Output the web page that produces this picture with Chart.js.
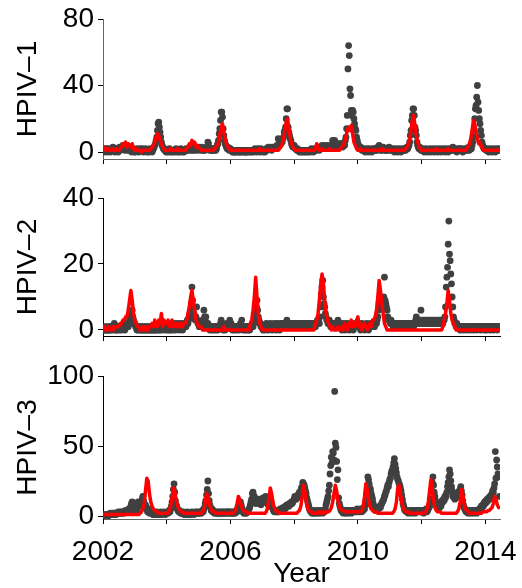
<!DOCTYPE html>
<html>
<head>
<meta charset="utf-8">
<script src="https://cdn.jsdelivr.net/npm/chart.js@4.4.1/dist/chart.umd.min.js"></script>
<style>
  body { margin: 0; background: #fff; width: 522px; height: 588px; position: relative; overflow: hidden; }
  canvas { position: absolute; left: 0; }
</style>
</head>
<body>
<canvas id="p1" width="522" height="175" style="top:0px"></canvas>
<canvas id="p2" width="522" height="170" style="top:175px"></canvas>
<canvas id="p3" width="522" height="243" style="top:345px"></canvas>
<script>
// weekly-ish counts: one row per year (2002..2014), observed at 48 steps/year, model fit at 24 steps/year
const START_YEAR = 2002;
const OBS_PER_YEAR = 48;
const FIT_PER_YEAR = 24;
const xTickValues = [2002, 2004, 2006, 2008, 2010, 2012, 2014];
const xTickLabels = [2002, 2006, 2010, 2014];

const hpiv1Obs = [
  [1,0,2,1, 1,2,0,1, 2,1,1,0, 1,2,1,3, 2,1,0,1, 1,2,1,0, 2,3,1,2, 3,2,4,2, 3,1,2,3, 2,1,3,2, 1,2,1,0, 2,1,1,0],
  [1,0,1,2, 1,1,0,1, 2,1,1,2, 1,0,1,1, 2,1,0,1, 1,0,1,2, 1,1,0,1, 2,3,4,5, 7,9,13,17, 18,15,12,9, 6,4,3,2, 2,1,1,0],
  [1,1,0,1, 2,1,0,1, 1,0,1,1, 0,1,2,1, 0,1,1,0, 1,2,1,0, 1,1,0,1, 1,2,1,1, 2,1,2,3, 2,1,2,1, 3,2,1,2, 2,3,1,2],
  [2,3,2,1, 2,3,2,1, 1,2,1,2, 3,2,6,5, 2,1,2,1, 1,2,1,2, 1,2,1,2, 4,5,7,11, 14,19,24,24, 21,14,10,7, 5,4,3,2, 3,2,1,2],
  [2,1,1,0, 1,0,1,0, 0,1,0,1, 1,0,0,1, 0,1,1,0, 1,0,1,0, 0,1,0,1, 1,0,1,1, 0,1,0,1, 1,2,1,0, 1,1,2,1, 0,1,2,1],
  [1,0,1,1, 0,1,2,1, 2,3,2,2, 3,2,1,3, 2,3,2,2, 3,2,4,3, 8,5,4,6, 5,7,6,8, 9,12,13,15, 20,26,26,15, 12,10,8,7, 5,4,3,3],
  [4,3,2,2, 1,2,1,1, 0,1,1,0, 1,0,1,1, 0,1,0,1, 1,0,1,1, 0,1,2,1, 1,0,1,2, 1,2,1,2, 3,2,1,2, 2,3,4,2, 3,2,4,3],
  [3,2,4,3, 2,3,2,4, 3,2,7,4, 3,7,5,3, 4,2,3,5, 4,3,5,4, 5,3,4,5, 4,7,9,14, 22,50,64,58, 38,34,25,22, 25,24,20,17, 14,13,9,7],
  [5,4,3,2, 3,2,1,2, 1,2,1,0, 1,1,2,1, 0,1,2,1, 1,0,1,2, 1,2,1,1, 2,1,3,2, 4,2,1,2, 1,2,3,2, 1,2,1,1, 2,1,2,3],
  [2,1,2,1, 1,2,1,0, 1,1,2,1, 0,1,1,2, 1,0,1,1, 2,1,1,2, 1,2,3,2, 3,4,6,10, 13,19,22,26, 26,22,15,13, 10,6,4,3, 2,3,2,1],
  [1,2,1,1, 0,1,2,1, 1,0,1,1, 2,1,0,1, 1,2,1,0, 1,1,2,1, 0,1,1,2, 1,0,1,1, 2,1,1,0, 1,2,1,1, 0,1,2,1, 1,2,1,3],
  [2,1,1,2, 1,0,1,2, 1,1,2,1, 2,1,0,1, 1,2,1,1, 2,1,2,3, 1,2,3,2, 4,6,9,13, 20,26,28,33, 40,30,25,20, 17,13,10,6, 4,3,2,2],
  [2,1,2,1, 1,0,1,2, 1,1,0,1, 2,1,1,0, 1,2,1,1, 1,2]
];
const hpiv1Fit = [
  [2,3,1,2, 2,1,1,2, 1,1,2,1, 1,2,3,5, 4,6,3,5, 4,3,5,2],
  [1,2,1,1, 1,0,1,1, 1,1,1,1, 2,3,4,6, 9,11,10,7, 5,3,2,1],
  [1,1,1,2, 1,1,1,1, 2,1,1,1, 1,1,1,2, 3,5,4,7, 5,6,3,4],
  [3,2,1,1, 1,1,1,1, 1,1,1,1, 2,3,4,6, 10,15,17,12, 8,5,3,2],
  [1,1,1,1, 1,1,1,1, 1,1,1,1, 1,1,1,1, 1,1,1,1, 1,1,2,1],
  [1,1,1,1, 1,1,1,1, 1,1,1,1, 1,2,3,5, 8,13,18,20, 14,9,5,3],
  [2,1,1,1, 1,1,1,1, 1,1,1,1, 1,1,1,1, 2,5,2,1, 1,2,1,1],
  [1,1,1,2, 1,1,1,1, 1,1,1,2, 3,4,6,9, 13,15,13,16, 11,6,4,2],
  [1,1,2,1, 1,1,1,1, 1,1,1,1, 1,1,1,1, 1,1,2,1, 1,1,1,1],
  [1,1,1,1, 1,1,1,1, 1,1,1,1, 2,3,5,8, 13,19,22,16, 10,6,3,2],
  [1,1,1,1, 1,1,1,1, 1,1,1,2, 1,1,1,1, 1,1,1,1, 2,1,1,1],
  [1,1,1,1, 1,1,1,1, 1,1,2,3, 5,8,13,19, 17,12,8,5, 6,3,2,1],
  [1,1,1,1, 1,1,1,1, 1,1,1,1]
];

const hpiv2Obs = [
  [0,0,1,0, 0,1,0,0, 1,0,0,1, 0,1,1,0, 1,2,1,0, 0,1,0,1, 1,0,1,1, 0,1,1,2, 1,0,1,1, 2,1,1,2, 3,2,4,5, 6,4,3,2],
  [2,1,1,0, 1,0,1,1, 0,1,0,0, 1,0,1,0, 0,1,0,1, 0,0,1,0, 1,0,0,1, 0,1,0,0, 1,0,1,1, 0,1,0,1, 1,0,1,2, 1,1,0,1],
  [1,0,1,1, 0,1,0,1, 1,0,1,2, 1,0,1,1, 2,1,1,0, 1,2,1,1, 0,1,2,1, 2,1,2,3, 2,3,4,5, 6,8,13,9, 7,5,4,3, 4,7,3,2],
  [2,1,2,1, 2,1,3,2, 6,4,3,4, 2,1,2,1, 1,0,1,1, 0,1,1,0, 1,1,0,1, 1,0,1,1, 1,2,3,1, 1,0,1,1, 0,1,2,1, 1,2,1,3],
  [1,2,1,0, 1,1,0,1, 1,0,1,1, 1,0,1,2, 1,3,1,0, 1,1,0,1, 0,1,1,0, 1,0,1,1, 1,2,1,2, 3,4,5,7, 9,6,4,3, 2,2,1,1],
  [1,0,1,1, 0,1,2,1, 1,0,1,1, 2,1,1,0, 1,1,2,1, 1,0,1,2, 1,1,0,1, 2,1,1,2, 1,2,1,1, 2,3,1,2, 1,2,1,1, 2,1,1,2],
  [1,2,1,1, 2,1,1,2, 1,1,2,1, 1,2,1,1, 2,1,1,2, 1,1,2,1, 1,2,1,2, 2,1,2,2, 1,2,2,3, 2,3,2,4, 7,11,13,15, 10,8,7,5],
  [4,3,3,2, 2,3,2,1, 2,1,2,1, 1,2,1,2, 1,2,3,1, 1,1,2,1, 0,1,1,2, 1,0,1,1, 2,1,1,0, 1,1,2,1, 1,0,1,1, 2,1,1,2],
  [1,2,1,1, 0,1,2,1, 1,1,0,1, 1,2,1,1, 0,1,1,2, 1,1,2,1, 2,1,2,3, 2,3,4,6, 8,9,10,9, 8,7,8,10, 16,9,8,7, 6,4,3,3],
  [3,2,3,2, 2,1,2,1, 1,2,1,1, 2,1,1,2, 1,1,2,1, 1,2,1,1, 2,1,2,2, 1,2,1,2, 2,1,2,2, 1,2,2,3, 4,2,3,2, 3,2,3,6],
  [3,2,2,3, 2,3,2,2, 3,2,3,2, 2,3,2,3, 2,2,3,2, 3,2,2,3, 2,3,2,2, 3,2,3,3, 2,3,3,4, 7,13,16,19, 26,33,23,21, 17,14,10,7],
  [4,3,2,2, 1,2,1,1, 1,1,0,1, 1,1,1,0, 1,1,1,1, 0,1,1,1, 1,0,1,1, 1,1,0,1, 1,1,1,0, 1,1,1,1, 1,0,1,1, 1,1,1,0],
  [1,1,0,1, 1,1,1,0, 1,1,1,1, 0,1,1,1, 1,1,0,1, 1,1]
];
const hpiv2Fit = [
  [0,1,0,0, 1,0,0,1, 0,1,1,1, 1,2,2,3, 3,4,4,6, 9,12,9,5],
  [3,2,1,1, 0,0,1,0, 1,0,0,1, 1,2,1,3, 2,1,3,2, 5,1,3,2],
  [2,3,1,2, 3,1,2,1, 2,1,1,2, 1,2,2,3, 5,7,10,12, 9,6,3,2],
  [1,1,1,0, 0,0,0,0, 0,0,0,0, 0,0,0,0, 0,0,0,1, 0,0,0,0],
  [0,0,0,0, 0,0,0,0, 0,0,0,0, 0,0,0,2, 3,6,10,16, 10,5,2,1],
  [0,0,0,0, 0,0,0,0, 0,0,0,0, 0,0,0,0, 0,0,0,0, 0,0,0,0],
  [0,0,0,0, 0,0,0,0, 0,0,0,0, 0,0,0,0, 2,3,5,9, 14,17,14,9],
  [5,3,2,1, 0,1,0,0, 0,1,0,0, 1,0,2,1, 0,2,1,3, 1,2,1,3],
  [4,1,2,0, 1,2,1,0, 1,2,1,3, 3,4,6,10, 15,12,8,5, 2,1,0,0],
  [0,0,0,0, 0,0,0,0, 0,0,0,0, 0,0,0,0, 0,0,0,0, 0,0,0,0],
  [0,0,0,0, 0,0,0,0, 0,0,0,0, 0,0,0,0, 1,3,5,8, 12,9,5,3],
  [2,1,0,0, 0,0,0,0, 0,0,0,0, 0,0,0,0, 0,0,0,0, 0,0,0,0],
  [0,0,0,0, 0,0,0,0, 0,0,0,0]
];

const hpiv3Obs = [
  [0,0,1,0, 1,0,1,1, 0,1,1,2, 1,1,2,1, 2,1,2,2, 1,2,2,3, 2,2,3,2, 3,2,3,3, 2,3,4,3, 3,4,3,5, 4,5,7,9, 10,6,4,5],
  [6,5,7,4, 6,10,7,8, 9,7,10,12, 14,11,9,8, 8,5,6,3, 5,3,2,4, 3,2,3,1, 2,1,2,2, 1,3,2,1, 2,1,2,3, 2,1,2,2, 3,2,1,2],
  [2,3,2,3, 4,3,5,7, 10,14,19,23, 17,11,8,7, 5,4,3,4, 3,2,3,2, 2,3,1,2, 2,1,2,3, 2,1,2,2, 1,2,3,2, 2,1,2,3, 2,2,3,2],
  [2,3,2,3, 2,3,4,3, 5,6,9,11, 15,19,25,16, 11,8,6,4, 5,3,4,3, 2,3,2,3, 2,2,3,2, 3,2,2,3, 2,3,2,2, 3,2,3,2, 3,3,2,3],
  [2,3,2,2, 3,2,3,2, 3,4,3,5, 4,5,8,10, 8,6,4,3, 2,3,2,3, 2,3,3,4, 5,6,8,10, 12,16,17,14, 14,11,9,10, 9,10,12,11, 10,9,8,9],
  [12,13,11,10, 12,14,12,10, 9,8,10,9, 8,10,7,6, 5,4,3,4, 3,4,3,3, 4,3,4,5, 4,5,4,6, 5,6,5,7, 6,8,7,8, 7,9,8,9, 10,9,10,11],
  [12,14,13,12, 14,13,15,16, 17,15,18,20, 21,24,23,22, 20,18,16,13, 11,9,7,5, 4,3,4,2, 3,2,3,4, 2,3,3,2, 4,3,2,3, 3,4,3,2, 3,4,3,5],
  [8,10,12,14, 18,22,30,36, 42,38,46,45, 40,89,52,49, 39,26,33,13, 9,7,5,4, 3,4,2,3, 4,3,2,4, 3,2,4,3, 3,4,2,3, 4,3,3,4, 3,4,3,5],
  [4,3,4,3, 5,4,3,5, 4,6,5,8, 11,15,18,28, 26,23,20,19, 16,14,12,9, 7,6,5,4, 5,4,6,5, 6,7,6,8, 9,10,11,12, 14,15,17,18, 20,22,21,24],
  [26,27,30,32, 33,35,38,41, 37,34,31,28, 26,25,23,22, 20,18,15,12, 9,7,5,4, 4,3,4,3, 2,3,4,3, 3,2,4,3, 3,4,2,3, 4,3,3,4, 3,4,3,4],
  [3,4,3,2, 4,3,4,5, 3,4,5,6, 7,9,12,18, 24,28,22,17, 14,11,9,7, 6,5,7,6, 8,7,9,11, 10,12,11,14, 13,15,17,21, 24,28,33,30, 25,21,18,14],
  [16,14,12,15, 13,15,14,17, 16,18,19,21, 18,15,11,8, 6,5,4,3, 4,3,2,3, 4,3,2,3, 4,3,2,4, 3,4,3,2, 4,3,4,5, 5,6,7,6, 8,7,9,10],
  [9,11,10,12, 11,13,12,14, 13,15,16,18, 17,20,23,46, 27,40,35,30, 28,14]
];
const hpiv3Fit = [
  [1,1,1,1, 1,1,1,1, 1,1,1,1, 1,1,1,1, 1,1,1,1, 1,1,1,1],
  [1,1,1,1, 2,3,5,9, 18,27,25,16, 10,7,5,4, 3,3,2,2, 2,2,2,2],
  [2,2,4,7, 13,20,18,12, 8,5,4,3, 3,2,2,2, 2,2,2,2, 2,2,2,2],
  [2,2,2,3, 5,9,16,14, 9,6,4,3, 3,2,2,2, 2,2,2,2, 2,2,2,2],
  [2,2,2,3, 5,9,14,12, 8,5,4,3, 3,2,2,2, 2,2,2,2, 2,2,2,2],
  [2,2,2,3, 6,12,20,16, 10,6,4,3, 3,2,2,2, 2,2,2,2, 2,2,2,2],
  [2,2,2,3, 4,7,13,22, 18,11,6,4, 3,3,2,2, 2,2,3,2, 3,2,3,2],
  [3,3,3,4, 6,10,16,22, 18,11,7,5, 4,4,3,3, 3,3,3,3, 3,3,3,3],
  [3,3,3,4, 7,14,23,19, 12,7,5,4, 3,3,3,2, 2,2,2,2, 2,2,2,2],
  [2,2,2,3, 5,10,20,22, 16,10,6,4, 3,3,3,2, 2,2,2,2, 2,2,2,2],
  [2,2,2,3, 5,10,18,26, 19,11,6,4, 3,3,3,2, 2,2,2,2, 2,2,2,2],
  [2,2,2,3, 5,10,19,15, 9,5,4,3, 2,2,2,2, 2,2,2,2, 2,2,3,3],
  [3,3,4,4, 5,6,9,14, 12,8,6,7]
];

const FONT = "'Liberation Sans', Arial, Helvetica, sans-serif";

function rowsToPoints(rows, perYear) {
  const pts = [];
  rows.forEach((row, k) => {
    row.forEach((v, i) => pts.push({ x: START_YEAR + k + i / perYear, y: v }));
  });
  return pts;
}

function drawPanel(p) {
  new Chart(document.getElementById(p.id), {
    type: 'scatter',
    data: {
      datasets: [
        {
          data: rowsToPoints(p.fit, FIT_PER_YEAR),
          showLine: true,
          borderColor: '#ff0000',
          borderWidth: 3.5,
          borderJoinStyle: 'round',
          pointRadius: 0,
          order: 0
        },
        {
          data: rowsToPoints(p.obs, OBS_PER_YEAR),
          pointRadius: 3.4,
          pointBackgroundColor: '#404040',
          pointBorderWidth: 0,
          order: 1
        }
      ]
    },
    options: {
      responsive: false,
      animation: false,
      events: [],
      layout: { padding: { top: p.padTop, right: 22, left: 0, bottom: 0 } },
      plugins: { legend: { display: false }, tooltip: { enabled: false } },
      scales: {
        x: {
          type: 'linear',
          min: 2002,
          max: 2014.46,
          afterBuildTicks: axis => { axis.ticks = xTickValues.map(v => ({ value: v })); },
          afterFit: s => { s.height = p.xHeight; s.paddingLeft = 0; s.paddingRight = 0; },
          ticks: {
            display: p.showX,
            autoSkip: false,
            maxRotation: 0,
            padding: 11,
            color: '#000',
            font: { family: FONT, size: 28 },
            callback: v => xTickLabels.includes(v) ? String(v) : ''
          },
          grid: { display: true, drawOnChartArea: false, drawTicks: true, tickLength: 5, color: '#000' },
          border: { display: true, color: p.xBorder, width: 1 },
          title: {
            display: p.showX,
            text: 'Year',
            color: '#000',
            font: { family: FONT, size: 28 },
            padding: { top: 0, bottom: -3 }
          }
        },
        y: {
          min: p.yMin,
          max: p.yMax,
          afterBuildTicks: axis => { axis.ticks = p.yTicks.map(v => ({ value: v })); },
          afterFit: s => { s.width = 103; s.paddingTop = 0; s.paddingBottom = 0; },
          ticks: { padding: 4, color: '#000', font: { family: FONT, size: 28 } },
          grid: { display: true, drawOnChartArea: false, drawTicks: true, tickLength: 5, color: '#000' },
          border: { display: true, color: p.yBorder, width: 1 },
          title: {
            display: true,
            text: p.label,
            color: '#000',
            font: { family: FONT, size: 28 },
            padding: { top: 11, bottom: 0 }
          }
        }
      }
    }
  });
}

drawPanel({ id: 'p1', label: 'HPIV–1', obs: hpiv1Obs, fit: hpiv1Fit, yTicks: [0, 40, 80], yMin: -4.2, yMax: 80,
  padTop: 19, xHeight: 16, showX: false, xBorder: '#666', yBorder: '#666' });
drawPanel({ id: 'p2', label: 'HPIV–2', obs: hpiv2Obs, fit: hpiv2Fit, yTicks: [0, 20, 40], yMin: -1.82, yMax: 40,
  padTop: 23, xHeight: 9, showX: false, xBorder: '#000', yBorder: '#000' });
drawPanel({ id: 'p3', label: 'HPIV–3', obs: hpiv3Obs, fit: hpiv3Fit, yTicks: [0, 50, 100], yMin: -2.14, yMax: 100,
  padTop: 31, xHeight: 69, showX: true, xBorder: '#666', yBorder: '#000' });
</script>
</body>
</html>
